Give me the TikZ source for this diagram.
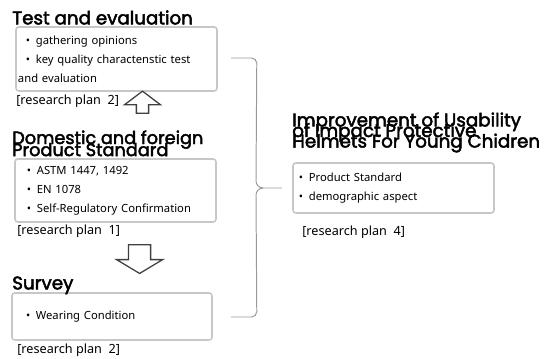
\documentclass[tikz,border=0pt]{standalone}
\usepackage{fontspec}
\setmainfont{Noto Sans}
\newfontfamily\headfont{Poppins}[FakeBold=2.5]
\newcommand\tightlines{\lineskiplimit=-20pt\relax}
\usetikzlibrary{calc}
\usetikzlibrary{shapes.arrows}

\begin{document}
\begin{tikzpicture}[
    itembox/.style={draw=black!22, line width=1.1pt, rounded corners=2pt,
      inner xsep=0.05cm, inner ysep=0pt, align=left,
      font=\fontsize{8}{13.5}\selectfont},
    headline/.style={anchor=north west, inner sep=0pt, align=left,
      font=\headfont\fontsize{13}{8.6}\selectfont\tightlines},
    planlabel/.style={anchor=west, inner sep=0pt, font=\fontsize{9}{10}\selectfont},
    blockarrow/.style={single arrow, draw=black!75, line width=0.9pt, fill=white,
      minimum height=0.55cm},
    bracel/.style={draw=black!40, line width=0.7pt}
  ]
\useasboundingbox (0,0) rectangle (13.725,8.975);

% left column
\node[itembox, text width=4.925cm, minimum height=1.6cm] (test) at (2.9125,7.5)
  {\hspace*{0.2cm}\textbullet\enskip gathering opinions\\
   \hspace*{0.2cm}\textbullet\enskip key quality charactenstic test\\
   and evaluation};
\node[headline] (testT) at (0.3,8.72) {Test and evaluation};
\node[planlabel] (testP) at (0.4,6.45) {[research plan\ \ 2]};

\node[itembox, text width=4.925cm, minimum height=1.575cm] (std) at (2.8875,4.2125)
  {\hspace*{0.25cm}\textbullet\enskip ASTM 1447, 1492\\
   \hspace*{0.25cm}\textbullet\enskip EN 1078\\
   \hspace*{0.25cm}\textbullet\enskip Self-Regulatory Confirmation};
\node[headline, font=\headfont\fontsize{12.6}{8.6}\selectfont\tightlines]
  (stdT) at (0.3,5.72) {Domestic and foreign\\Product Standard};
\node[planlabel] (stdP) at (0.425,3.2) {[research plan\ \ 1]};

\node[itembox, text width=4.9cm, minimum height=1.175cm] (svy) at (2.8,1.0625)
  {\hspace*{0.3cm}\textbullet\enskip Wearing Condition};
\node[headline] (svyT) at (0.3,2.07) {Survey};
\node[planlabel] (svyP) at (0.425,0.225) {[research plan\ \ 2]};

% block arrows between the steps
\node[blockarrow, inner sep=0.1375cm, single arrow head extend=0.3cm,
  single arrow tip angle=106, rotate=90] (up) at (3.5625,6.3625) {};
\node[blockarrow, inner sep=0.26cm, single arrow head extend=0.3cm,
  single arrow tip angle=118, rotate=-90] (down) at (3.49,2.58) {};

% result
\node[itembox, text width=4.925cm, minimum height=1.25cm] (res) at (9.8375,4.275)
  {\hspace*{0.1cm}\textbullet\enskip Product Standard\\
   \hspace*{0.1cm}\textbullet\enskip demographic aspect};
\node[headline, font=\headfont\fontsize{13}{7.5}\selectfont\tightlines]
  (resT) at (7.3,6.17) {Improvement of Usability\\of Impact Protective\\Helmets For Young Chidren};
\node[planlabel] (resP) at (7.55,3.175) {[research plan\ \ 4]};

% brace
\coordinate (bt) at ($(test.east)+(0.325,0.025)$);
\coordinate (bb) at ($(svy.east)+(0.45,-0.0125)$);
\coordinate (tip) at ($(res.west)+(-0.25,0)$);
\draw[bracel] (bt) -- ++(0.52,0) to[out=0,in=90] ++(0.13,-0.13)
  -- (6.4,4.45) to[out=-90,in=180] (6.58,4.275) -- (tip);
\draw[bracel] (bb) -- ++(0.52,0) to[out=0,in=-90] ++(0.13,0.13)
  -- (6.4,4.1) to[out=90,in=180] (6.58,4.275);
\end{tikzpicture}
\end{document}
